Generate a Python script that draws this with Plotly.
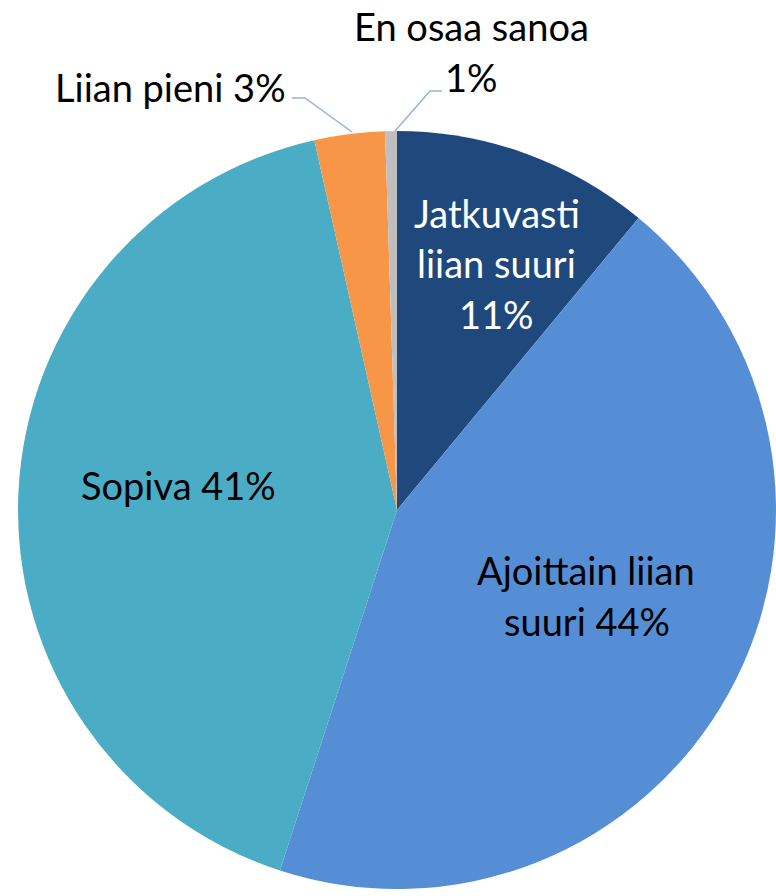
import plotly.graph_objects as go

categories = ["Jatkuvasti liian suuri", "Ajoittain liian suuri", "Sopiva", "Liian pieni", "En osaa sanoa"]
values = [11.0, 44.0, 41.5, 3.0, 0.5]
percent_labels = ["11%", "44%", "41%", "3%", "1%"]
colors = ["#1F497D", "#558ED5", "#4BACC6", "#F79646", "#BFBFBF"]

W, H = 776, 896
FONT = "Lato"
FS = 38

def px(x):
    return x / W

def py(y):
    return 1 - y / H

fig = go.Figure(go.Pie(
    labels=categories,
    values=values,
    sort=False,
    direction="clockwise",
    rotation=0,
    marker=dict(colors=colors, line=dict(width=0)),
    textinfo="none",
    hoverinfo="label+percent",
    showlegend=False,
    domain=dict(x=[18 / W, 1.0], y=[py(889), py(131)]),
))

annotations = []
def add_text(x, y, t, color="black"):
    annotations.append(dict(x=px(x), y=py(y), xref="paper", yref="paper", text=t,
                            showarrow=False, xanchor="center", yanchor="middle",
                            font=dict(family=FONT, size=FS, color=color)))

add_text(472, 26, "En osaa sanoa")
add_text(472, 77, percent_labels[4])
add_text(170, 87, "Liian pieni " + percent_labels[3])
add_text(497, 213, "Jatkuvasti", "white")
add_text(497, 263, "liian suuri", "white")
add_text(497, 314, percent_labels[0], "white")
add_text(586, 570, "Ajoittain liian")
add_text(587, 621, "suuri " + percent_labels[1])
add_text(178, 485, "Sopiva " + percent_labels[2])

line_color = "#95B3D7"
shapes = []
def add_path(pts):
    d = "M " + " L ".join(f"{px(x)},{py(y)}" for x, y in pts)
    shapes.append(dict(type="path", path=d, xref="paper", yref="paper",
                       line=dict(color=line_color, width=1.5)))

add_path([(292, 98), (305, 98), (352, 132)])
add_path([(442, 91), (430, 91), (395, 131)])

fig.update_layout(
    width=W, height=H,
    margin=dict(l=0, r=0, t=0, b=0),
    paper_bgcolor="white",
    plot_bgcolor="white",
    annotations=annotations,
    shapes=shapes,
)

fig.write_html("out.html", config={"displayModeBar": False},
               post_script="document.body.style.margin='0';document.body.style.overflow='hidden';")
